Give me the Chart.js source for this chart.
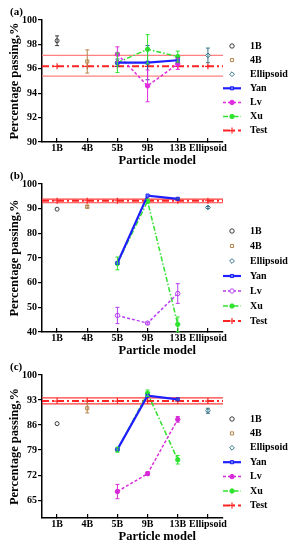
<!DOCTYPE html>
<html>
<head>
<meta charset="utf-8">
<script src="https://cdn.jsdelivr.net/npm/chart.js@4.4.0/dist/chart.umd.min.js"></script>
<style>
    body { margin: 0; background: #fff; }
    .panel { position: absolute; left: 0; width: 294px; }
</style>
</head>
<body>
<div class="panel" style="top:0px;height:170px"><canvas id="chart-a"></canvas></div>
<div class="panel" style="top:164px;height:196px"><canvas id="chart-b"></canvas></div>
<div class="panel" style="top:355px;height:191px"><canvas id="chart-c"></canvas></div>
<script>
const MODELS = ["1B", "4B", "5B", "9B", "13B", "Ellipsoid"];
const CURVE_MODELS = ["5B", "9B", "13B"];
const SINGLE_MODELS = ["1B", "4B", "Ellipsoid"];

// (a)
const A_SINGLE = [98.3, 96.6, 97.1];
const A_SINGLE_ERR = [0.4, 0.95, 0.6];
const A_YAN = [96.5, 96.5, 96.7];
const A_YAN_ERR = [0.3, 1.4, 0.2];
const A_LV = [97.2, 94.6, 96.4];
const A_LV_ERR = [0.6, 1.3, 0.45];
const A_XU = [96.5, 97.6, 97.0];
const A_XU_ERR = [0.8, 1.2, 0.45];
const A_TEST = 96.2;
const A_BAND = [95.4, 97.1];
const A_Y_TICKS = [90, 92, 94, 96, 98, 100];

// (b)
const B_SINGLE = [89.8, 90.8, 90.5];
const B_SINGLE_ERR = [0, 0.6, 0.4];
const B_YAN = [68.0, 95.3, 94.0];
const B_YAN_ERR = [0, 0, 0.3];
const B_LV = [46.7, 43.6, 55.6];
const B_LV_ERR = [3.3, 0.4, 4.0];
const B_XU = [67.8, 93.0, 43.1];
const B_XU_ERR = [2.6, 0.8, 3.0];
const B_TEST = 93.2;
const B_BAND = [92.4, 93.9];
const B_Y_TICKS = [40, 50, 60, 70, 80, 90, 100];

// (c)
const C_SINGLE = [86.4, 90.7, 90.0];
const C_SINGLE_ERR = [0, 1.3, 0.7];
const C_YAN = [79.2, 94.2, 93.2];
const C_YAN_ERR = [0, 0, 0.3];
const C_LV = [67.4, 72.4, 87.6];
const C_LV_ERR = [2.0, 0.5, 0.8];
const C_XU = [79.1, 94.9, 76.3];
const C_XU_ERR = [0.7, 0.9, 1.2];
const C_TEST = 92.7;
const C_BAND = [91.9, 93.6];
const C_Y_TICKS = [65, 72, 79, 86, 93, 100];

const SERIF = '"Liberation Serif", "Times New Roman", serif';
Chart.defaults.color = "#000";
Chart.defaults.font.family = SERIF;
Chart.defaults.font.weight = "bold";

function at(model) {
    return MODELS.indexOf(model) + 1;
}
function series(models, vals) {
    return models.map((m, i) => ({x: at(m), y: vals[i]}));
}

// error bars, drawn from each dataset's "errors" list
const errorBars = {
    id: "errorBars",
    afterDatasetsDraw(chart) {
        const ctx = chart.ctx;
        const y = chart.scales.y;
        chart.data.datasets.forEach((ds, di) => {
            if (!ds.errors) return;
            const meta = chart.getDatasetMeta(di);
            ctx.save();
            ctx.strokeStyle = ds.errorColor || ds.borderColor;
            ctx.lineWidth = 1;
            meta.data.forEach((pt, i) => {
                let e = ds.errors[i];
                if (!e) return;
                let v = ds.data[i].y;
                let top = y.getPixelForValue(v + e);
                let bot = y.getPixelForValue(v - e);
                ctx.beginPath();
                ctx.moveTo(pt.x, top); ctx.lineTo(pt.x, bot);
                ctx.moveTo(pt.x - 2, top); ctx.lineTo(pt.x + 2, top);
                ctx.moveTo(pt.x - 2, bot); ctx.lineTo(pt.x + 2, bot);
                ctx.stroke();
            });
            ctx.restore();
        });
    }
};

// legend at the right, line sample + marker + name
const sideLegend = {
    id: "sideLegend",
    afterDraw(chart, args, opts) {
        const ctx = chart.ctx;
        const area = chart.chartArea;
        let y = area.top + opts.top;
        ctx.save();
        ctx.font = "bold 10px " + SERIF;
        ctx.textBaseline = "middle";
        chart.data.datasets.forEach(ds => {
            if (!ds.label) return;
            let mx = area.right + 9;
            if (ds.showLine !== false) {
                ctx.save();
                ctx.strokeStyle = ds.borderColor;
                ctx.lineWidth = ds.borderWidth;
                ctx.setLineDash(ds.borderDash || []);
                ctx.beginPath();
                ctx.moveTo(area.right, y);
                ctx.lineTo(area.right + 18, y);
                ctx.stroke();
                ctx.restore();
            }
            ctx.save();
            ctx.strokeStyle = ds.pointBorderColor || ds.borderColor;
            ctx.fillStyle = ds.pointBackgroundColor || ds.backgroundColor;
            ctx.lineWidth = ds.pointBorderWidth || 1;
            Chart.helpers.drawPoint(ctx, {
                pointStyle: ds.pointStyle,
                radius: ds.legendRadius || 2.2,
                rotation: 0,
                borderWidth: ds.pointBorderWidth || 1
            }, mx, y);
            ctx.restore();
            ctx.fillStyle = "#000";
            ctx.fillText(ds.label, area.right + 27, y);
            y += opts.gap;
        });
        ctx.restore();
    }
};

// panel letter and x title
const panelText = {
    id: "panelText",
    afterDraw(chart, args, opts) {
        const ctx = chart.ctx;
        const area = chart.chartArea;
        ctx.save();
        ctx.fillStyle = "#000";
        ctx.textBaseline = "middle";
        ctx.font = "bold 11px " + SERIF;
        ctx.fillText(opts.letter, 10, area.top - 8);
        ctx.font = "bold 12.5px " + SERIF;
        ctx.textAlign = "center";
        ctx.fillText("Particle model", chart.width * 0.535, area.bottom + 19);
        ctx.restore();
    }
};

function makePanel(id, letter, p) {
    let single = p.single;
    let singleErr = p.singleErr;
    let testPts = [{x: 0.5, y: p.test}].concat(series(MODELS, MODELS.map(() => p.test)), [{x: 6.5, y: p.test}]);
    let testRadius = testPts.map((pt, i) => (i == 0 || i == testPts.length - 1) ? 0 : 3);
    let datasets = [
        {
            label: "1B", data: series(["1B"], [single[0]]), errors: [singleErr[0]],
            showLine: false, pointStyle: "circle", pointRadius: 2, borderWidth: 1,
            borderColor: "#3a3a3a", backgroundColor: "#fff"
        },
        {
            label: "4B", data: series(["4B"], [single[1]]), errors: [singleErr[1]],
            showLine: false, pointStyle: "rect", pointRadius: 2.2, borderWidth: 1,
            borderColor: "#b5834a", backgroundColor: "#fff"
        },
        {
            label: "Ellipsoid", data: series(["Ellipsoid"], [single[2]]), errors: [singleErr[2]],
            showLine: false, pointStyle: "rectRot", pointRadius: 2.4, borderWidth: 1,
            borderColor: "#357486", backgroundColor: "#fff", legendRadius: 2.4
        },
        {
            label: "Yan", data: series(CURVE_MODELS, p.yan), errors: p.yanErr,
            borderColor: "#1e1eff", backgroundColor: "#6d7dff", borderWidth: 2.2,
            pointStyle: "rect", pointRadius: 2.2, pointBorderWidth: 1, errorColor: "#2c3fa8"
        },
        {
            label: "Lv", data: series(CURVE_MODELS, p.lv), errors: p.lvErr,
            borderColor: p.lvColor, backgroundColor: p.lvFill, borderWidth: 1.5, borderDash: [3, 2],
            pointStyle: "circle", pointRadius: 2.2, pointBorderWidth: 1
        },
        {
            label: "Xu", data: series(CURVE_MODELS, p.xu), errors: p.xuErr,
            borderColor: "#2fe32f", backgroundColor: "#2fe32f", borderWidth: 1.5, borderDash: [5, 2, 1.5, 2],
            pointStyle: "circle", pointRadius: 2.2, pointBorderWidth: 1
        },
        {
            label: "Test", data: testPts,
            borderColor: "#ff2424", backgroundColor: "#ff2424", borderWidth: 2, borderDash: [7, 3, 2, 3],
            pointStyle: "cross", pointRadius: testRadius, pointBorderWidth: 1.2, legendRadius: 3
        },
        {
            data: [{x: 0.5, y: p.band[0]}, {x: 6.5, y: p.band[0]}],
            borderColor: p.bandColor, borderWidth: 1.2, pointRadius: 0
        },
        {
            data: [{x: 0.5, y: p.band[1]}, {x: 6.5, y: p.band[1]}],
            borderColor: p.bandColor, borderWidth: 1.2, pointRadius: 0
        },
    ];

    return new Chart(document.getElementById(id), {
        type: "line",
        data: {datasets: datasets},
        plugins: [errorBars, sideLegend, panelText],
        options: {
            responsive: true,
            maintainAspectRatio: false,
            animation: false,
            events: [],
            layout: {padding: {top: 20, right: 71, left: 0, bottom: 0}},
            elements: {line: {tension: 0}},
            plugins: {
                legend: {display: false},
                tooltip: {enabled: false},
                sideLegend: {top: p.legendTop, gap: p.legendGap},
                panelText: {letter: letter},
            },
            scales: {
                x: {
                    type: "linear", min: 0.5, max: 6.5,
                    afterBuildTicks: s => { s.ticks = MODELS.map((m, i) => ({value: i + 1})); },
                    afterFit: s => { s.height = 28; },
                    ticks: {
                        callback: v => MODELS[v - 1],
                        font: {size: 10, weight: "bold"},
                        padding: 4, maxRotation: 0, autoSkip: false
                    },
                    grid: {drawOnChartArea: false, drawTicks: true, tickLength: -4, color: "#000", lineWidth: 1.2},
                    border: {display: true, color: "#000", width: 1.5}
                },
                y: {
                    min: p.yMin, max: p.yMax,
                    afterBuildTicks: s => { s.ticks = p.yTicks.map(v => ({value: v})); },
                    afterFit: s => { s.width = 42; },
                    ticks: {font: {size: 10, weight: "bold"}, padding: 1},
                    grid: {drawOnChartArea: false, drawTicks: true, tickLength: 4, color: "#000", lineWidth: 1.2},
                    border: {display: true, color: "#000", width: 1.5},
                    title: {
                        display: true, text: "Percentage passing,%",
                        font: {size: 12.5, weight: "bold"}, padding: {top: 7.5, bottom: 0}
                    }
                }
            }
        }
    });
}

makePanel("chart-a", "(a)", {
    single: A_SINGLE, singleErr: A_SINGLE_ERR,
    yan: A_YAN, yanErr: A_YAN_ERR, lv: A_LV, lvErr: A_LV_ERR, xu: A_XU, xuErr: A_XU_ERR,
    test: A_TEST, band: A_BAND, bandColor: "#ff8080",
    lvColor: "#e02ae0", lvFill: "#e02ae0",
    yMin: 90, yMax: 100, yTicks: A_Y_TICKS, legendTop: 26, legendGap: 14.1
});
makePanel("chart-b", "(b)", {
    single: B_SINGLE, singleErr: B_SINGLE_ERR,
    yan: B_YAN, yanErr: B_YAN_ERR, lv: B_LV, lvErr: B_LV_ERR, xu: B_XU, xuErr: B_XU_ERR,
    test: B_TEST, band: B_BAND, bandColor: "#ff3a3a",
    lvColor: "#b53ef2", lvFill: "#fff",
    yMin: 40, yMax: 100, yTicks: B_Y_TICKS, legendTop: 47, legendGap: 15
});
makePanel("chart-c", "(c)", {
    single: C_SINGLE, singleErr: C_SINGLE_ERR,
    yan: C_YAN, yanErr: C_YAN_ERR, lv: C_LV, lvErr: C_LV_ERR, xu: C_XU, xuErr: C_XU_ERR,
    test: C_TEST, band: C_BAND, bandColor: "#ff3a3a",
    lvColor: "#d82ad8", lvFill: "#d82ad8",
    yMin: 60, yMax: 100, yTicks: C_Y_TICKS, legendTop: 44, legendGap: 14.4
});
</script>
</body>
</html>
